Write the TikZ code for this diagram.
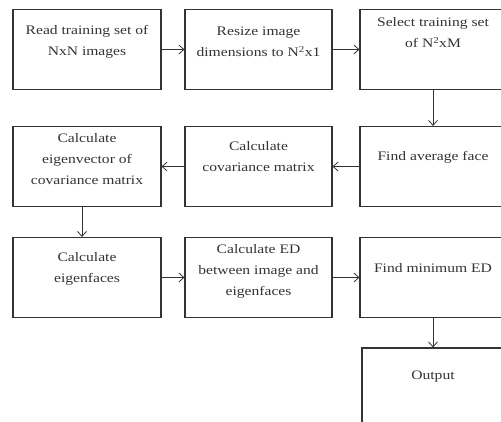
\documentclass[tikz,border=0pt]{standalone}
\usepackage{fontspec}
\setmainfont{Liberation Serif}[FakeStretch=1.2]
\usetikzlibrary{arrows.meta}
\tikzset{>={Straight Barb[length=5pt,width=9pt]}}
\definecolor{ink}{HTML}{333333}
\tikzset{box/.style = {shape=rectangle,draw=ink,line width=1.1pt,minimum width=148pt,minimum height=80pt,inner sep=0pt}}
\tikzset{txt/.style = {align=center,inner sep=0pt,text=ink,font=\fontsize{13}{21}\selectfont}}
\tikzset{edge/.style = {->,draw=ink,line width=0.8pt}}

\begin{document}
\begin{tikzpicture}[x=1pt,y=-1pt]
                \useasboundingbox (0,0) rectangle (501,421);
                \node[box] (read) at (87,49.5) {};
                \node[txt] (readt) at ([yshift=7.5pt]read.center) {Read training set of\\NxN images};
                \node[box,minimum width=147pt] (resize) at (258.5,49.5) {};
                \node[txt] (resizet) at ([yshift=7.5pt]resize.center) {Resize image\\dimensions to N\textsuperscript{2}x1};
                \draw[edge] (read) to (resize);
                \node[box,minimum width=146pt] (select) at (433,49.5) {};
                \node[txt] (selectt) at ([yshift=17pt]select.center) {Select training set\\of N\textsuperscript{2}xM};
                \draw[edge] (resize) to (select);
                \node[box,minimum width=146pt] (avg) at (433,166.5) {};
                \node[txt] (avgt) at ([yshift=9.5pt]avg.center) {Find average face};
                \draw[edge] (select) to (avg);
                \node[box,minimum width=147pt] (cov) at (258.5,166.5) {};
                \node[txt] (covt) at ([yshift=9.5pt]cov.center) {Calculate\\covariance matrix};
                \draw[edge] (avg) to (cov);
                \node[box] (eig) at (87,166.5) {};
                \node[txt] (eigt) at ([yshift=7pt]eig.center) {Calculate\\eigenvector of\\covariance matrix};
                \draw[edge] (cov) to (eig);
                \node[box] (faces) at (87,277.5) {};
                \node[txt] (facest) at ([yshift=9pt]faces.center) {Calculate\\eigenfaces};
                \draw[edge] ([xshift=-5pt]eig.south) to ([xshift=-5pt]faces.north);
                \node[box,minimum width=147pt] (dist) at (258.5,277.5) {};
                \node[txt] (distt) at ([yshift=6.5pt]dist.center) {Calculate ED\\between image and\\eigenfaces};
                \draw[edge] (faces) to (dist);
                \node[box,minimum width=146pt] (minED) at (433,277.5) {};
                \node[txt] (minEDt) at ([yshift=9.5pt]minED.center) {Find minimum ED};
                \draw[edge] (dist) to (minED);
                \node[box,minimum width=142pt] (out) at (433,388) {};
                \node[txt] (outt) at ([yshift=11pt]out.center) {Output};
                \draw[edge] (minED) to (out);
\end{tikzpicture}
\end{document}
